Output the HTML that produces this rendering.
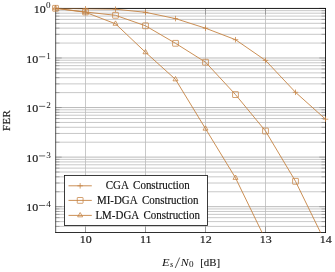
<!DOCTYPE html>
<html><head><meta charset="utf-8"><title>FER</title><style>html,body{margin:0;padding:0;background:#fff}body{width:335px;height:272px;overflow:hidden}</style></head><body>
<svg width="335" height="272" viewBox="0 0 335 272" style="display:block;will-change:transform;font-family:'Liberation Serif',serif">
<rect width="335" height="272" fill="#fff"/>
<path d="M55.5 10.67H325.5M55.5 13.20H325.5M55.5 16.08H325.5M55.5 19.40H325.5M55.5 23.32H325.5M55.5 28.13H325.5M55.5 34.32H325.5M55.5 43.05H325.5M55.5 60.24H325.5M55.5 62.77H325.5M55.5 65.65H325.5M55.5 68.97H325.5M55.5 72.89H325.5M55.5 77.70H325.5M55.5 83.89H325.5M55.5 92.62H325.5M55.5 109.81H325.5M55.5 112.34H325.5M55.5 115.22H325.5M55.5 118.54H325.5M55.5 122.46H325.5M55.5 127.27H325.5M55.5 133.46H325.5M55.5 142.19H325.5M55.5 159.38H325.5M55.5 161.91H325.5M55.5 164.79H325.5M55.5 168.11H325.5M55.5 172.03H325.5M55.5 176.84H325.5M55.5 183.03H325.5M55.5 191.76H325.5M55.5 208.95H325.5M55.5 211.48H325.5M55.5 214.36H325.5M55.5 217.68H325.5M55.5 221.60H325.5M55.5 226.41H325.5" stroke="#bababa" stroke-width="0.8" fill="none"/>
<path d="M55.5 57.97H325.5M55.5 107.54H325.5M55.5 157.11H325.5M55.5 206.68H325.5" stroke="#b2b2b2" stroke-width="0.9" fill="none"/>
<path d="M85.50 8.4V232.5M145.50 8.4V232.5M205.50 8.4V232.5M265.50 8.4V232.5" stroke="#bbbbbb" stroke-width="0.8" fill="none"/>
<path d="M55.5 10.67h4M325.5 10.67h-4M55.5 13.20h4M325.5 13.20h-4M55.5 16.08h4M325.5 16.08h-4M55.5 19.40h4M325.5 19.40h-4M55.5 23.32h4M325.5 23.32h-4M55.5 28.13h4M325.5 28.13h-4M55.5 34.32h4M325.5 34.32h-4M55.5 43.05h4M325.5 43.05h-4M55.5 60.24h4M325.5 60.24h-4M55.5 62.77h4M325.5 62.77h-4M55.5 65.65h4M325.5 65.65h-4M55.5 68.97h4M325.5 68.97h-4M55.5 72.89h4M325.5 72.89h-4M55.5 77.70h4M325.5 77.70h-4M55.5 83.89h4M325.5 83.89h-4M55.5 92.62h4M325.5 92.62h-4M55.5 109.81h4M325.5 109.81h-4M55.5 112.34h4M325.5 112.34h-4M55.5 115.22h4M325.5 115.22h-4M55.5 118.54h4M325.5 118.54h-4M55.5 122.46h4M325.5 122.46h-4M55.5 127.27h4M325.5 127.27h-4M55.5 133.46h4M325.5 133.46h-4M55.5 142.19h4M325.5 142.19h-4M55.5 159.38h4M325.5 159.38h-4M55.5 161.91h4M325.5 161.91h-4M55.5 164.79h4M325.5 164.79h-4M55.5 168.11h4M325.5 168.11h-4M55.5 172.03h4M325.5 172.03h-4M55.5 176.84h4M325.5 176.84h-4M55.5 183.03h4M325.5 183.03h-4M55.5 191.76h4M325.5 191.76h-4M55.5 208.95h4M325.5 208.95h-4M55.5 211.48h4M325.5 211.48h-4M55.5 214.36h4M325.5 214.36h-4M55.5 217.68h4M325.5 217.68h-4M55.5 221.60h4M325.5 221.60h-4M55.5 226.41h4M325.5 226.41h-4" stroke="#808080" stroke-width="0.6" fill="none"/>
<path d="M55.5 8.40h6.2M325.5 8.40h-6.2M55.5 57.97h6.2M325.5 57.97h-6.2M55.5 107.54h6.2M325.5 107.54h-6.2M55.5 157.11h6.2M325.5 157.11h-6.2M55.5 206.68h6.2M325.5 206.68h-6.2M85.50 8.4v6.2M85.50 232.5v-6.2M145.50 8.4v6.2M145.50 232.5v-6.2M205.50 8.4v6.2M205.50 232.5v-6.2M265.50 8.4v6.2M265.50 232.5v-6.2" stroke="#808080" stroke-width="0.6" fill="none"/>
<path d="M55.68 8V233" stroke="#2e2e2e" stroke-width="0.8" fill="none"/><path d="M325.5 8V233" stroke="#000" stroke-width="0.85" fill="none"/><path d="M55.3 8.45H325.9" stroke="#000" stroke-width="0.9" fill="none"/><path d="M55.3 232.5H325.9" stroke="#0a0a0a" stroke-width="0.85" fill="none"/>
<clipPath id="c"><rect x="55.5" y="8.4" width="270.0" height="224.1"/></clipPath>
<polyline points="55.50,8.30 85.50,8.80 115.50,9.20 145.50,12.30 175.50,18.60 205.50,28.20 235.50,39.70 265.50,60.40 295.50,92.30 325.50,119.20" fill="none" stroke="#c58343" stroke-width="0.9" clip-path="url(#c)" stroke-linejoin="round"/>
<polyline points="55.50,8.30 85.50,12.00 115.50,15.30 145.50,25.80 175.50,43.30 205.50,62.20 235.50,94.60 265.50,131.00 295.50,181.30 325.50,242.70" fill="none" stroke="#c58343" stroke-width="0.9" clip-path="url(#c)" stroke-linejoin="round"/>
<polyline points="55.50,8.30 85.50,12.30 115.50,23.80 145.50,52.30 175.50,79.40 205.50,128.70 235.50,177.90 265.50,239.60" fill="none" stroke="#c58343" stroke-width="0.9" clip-path="url(#c)" stroke-linejoin="round"/>
<path d="M52.75 8.30h5.5M55.50 5.55v5.5" stroke="#c58343" stroke-width="0.75" fill="none"/>
<path d="M82.75 8.80h5.5M85.50 6.05v5.5" stroke="#c58343" stroke-width="0.75" fill="none"/>
<path d="M112.75 9.20h5.5M115.50 6.45v5.5" stroke="#c58343" stroke-width="0.75" fill="none"/>
<path d="M142.75 12.30h5.5M145.50 9.55v5.5" stroke="#c58343" stroke-width="0.75" fill="none"/>
<path d="M172.75 18.60h5.5M175.50 15.85v5.5" stroke="#c58343" stroke-width="0.75" fill="none"/>
<path d="M202.75 28.20h5.5M205.50 25.45v5.5" stroke="#c58343" stroke-width="0.75" fill="none"/>
<path d="M232.75 39.70h5.5M235.50 36.95v5.5" stroke="#c58343" stroke-width="0.75" fill="none"/>
<path d="M262.75 60.40h5.5M265.50 57.65v5.5" stroke="#c58343" stroke-width="0.75" fill="none"/>
<path d="M292.75 92.30h5.5M295.50 89.55v5.5" stroke="#c58343" stroke-width="0.75" fill="none"/>
<path d="M322.75 119.20h5.5M325.50 116.45v5.5" stroke="#c58343" stroke-width="0.75" fill="none"/>
<rect x="52.60" y="5.40" width="5.8" height="5.8" rx="0.4" stroke="#c58343" stroke-width="0.75" fill="none"/>
<rect x="82.60" y="9.10" width="5.8" height="5.8" rx="0.4" stroke="#c58343" stroke-width="0.75" fill="none"/>
<rect x="112.60" y="12.40" width="5.8" height="5.8" rx="0.4" stroke="#c58343" stroke-width="0.75" fill="none"/>
<rect x="142.60" y="22.90" width="5.8" height="5.8" rx="0.4" stroke="#c58343" stroke-width="0.75" fill="none"/>
<rect x="172.60" y="40.40" width="5.8" height="5.8" rx="0.4" stroke="#c58343" stroke-width="0.75" fill="none"/>
<rect x="202.60" y="59.30" width="5.8" height="5.8" rx="0.4" stroke="#c58343" stroke-width="0.75" fill="none"/>
<rect x="232.60" y="91.70" width="5.8" height="5.8" rx="0.4" stroke="#c58343" stroke-width="0.75" fill="none"/>
<rect x="262.60" y="128.10" width="5.8" height="5.8" rx="0.4" stroke="#c58343" stroke-width="0.75" fill="none"/>
<rect x="292.60" y="178.40" width="5.8" height="5.8" rx="0.4" stroke="#c58343" stroke-width="0.75" fill="none"/>
<path d="M55.50 5.40L52.99 9.75L58.01 9.75Z" stroke="#c58343" stroke-width="0.78" fill="none" stroke-linejoin="miter"/>
<path d="M85.50 9.40L82.99 13.75L88.01 13.75Z" stroke="#c58343" stroke-width="0.78" fill="none" stroke-linejoin="miter"/>
<path d="M115.50 20.90L112.99 25.25L118.01 25.25Z" stroke="#c58343" stroke-width="0.78" fill="none" stroke-linejoin="miter"/>
<path d="M145.50 49.40L142.99 53.75L148.01 53.75Z" stroke="#c58343" stroke-width="0.78" fill="none" stroke-linejoin="miter"/>
<path d="M175.50 76.50L172.99 80.85L178.01 80.85Z" stroke="#c58343" stroke-width="0.78" fill="none" stroke-linejoin="miter"/>
<path d="M205.50 125.80L202.99 130.15L208.01 130.15Z" stroke="#c58343" stroke-width="0.78" fill="none" stroke-linejoin="miter"/>
<path d="M235.50 175.00L232.99 179.35L238.01 179.35Z" stroke="#c58343" stroke-width="0.78" fill="none" stroke-linejoin="miter"/>
<rect x="64.5" y="175.4" width="143.0" height="50.099999999999994" fill="#fff" stroke="#111" stroke-width="0.82"/>
<path d="M68.5 185.8H91.8" stroke="#c58343" stroke-width="0.9" fill="none"/>
<path d="M77.40 185.80h5.5M80.15 183.05v5.5" stroke="#c58343" stroke-width="0.75" fill="none"/>
<text transform="translate(147.7,189.35) scale(0.928,1)" font-size="11.8" word-spacing="2.3" text-anchor="middle" fill="#111" stroke="#111" stroke-width="0.15">CGA Construction</text>
<path d="M68.5 200.4H91.8" stroke="#c58343" stroke-width="0.9" fill="none"/>
<rect x="77.25" y="197.50" width="5.8" height="5.8" rx="0.4" stroke="#c58343" stroke-width="0.75" fill="none"/>
<text transform="translate(147.7,203.95) scale(0.928,1)" font-size="11.8" word-spacing="2.3" text-anchor="middle" fill="#111" stroke="#111" stroke-width="0.15">MI-DGA Construction</text>
<path d="M68.5 215.4H91.8" stroke="#c58343" stroke-width="0.9" fill="none"/>
<path d="M80.15 212.50L77.64 216.85L82.66 216.85Z" stroke="#c58343" stroke-width="0.78" fill="none" stroke-linejoin="miter"/>
<text transform="translate(147.7,218.55) scale(0.928,1)" font-size="11.8" word-spacing="2.3" text-anchor="middle" fill="#111" stroke="#111" stroke-width="0.15">LM-DGA Construction</text>
<text transform="translate(45.70,12.80) scale(1.1,1)" font-size="10.9" text-anchor="end" fill="#1a1a1a" stroke="#1a1a1a" stroke-width="0.18">10</text>
<text transform="translate(46.00,8.40) scale(1.15,1)" font-size="8" fill="#111">0</text>
<text transform="translate(38.20,62.67) scale(1.1,1)" font-size="10.9" text-anchor="end" fill="#1a1a1a" stroke="#1a1a1a" stroke-width="0.18">10</text>
<path d="M39.1 56.77h6.1" stroke="#111" stroke-width="0.65"/>
<text transform="translate(46.30,58.77) scale(1.15,1)" font-size="8" fill="#111">1</text>
<text transform="translate(38.20,112.24) scale(1.1,1)" font-size="10.9" text-anchor="end" fill="#1a1a1a" stroke="#1a1a1a" stroke-width="0.18">10</text>
<path d="M39.1 106.34h6.1" stroke="#111" stroke-width="0.65"/>
<text transform="translate(46.30,108.34) scale(1.15,1)" font-size="8" fill="#111">2</text>
<text transform="translate(38.20,161.81) scale(1.1,1)" font-size="10.9" text-anchor="end" fill="#1a1a1a" stroke="#1a1a1a" stroke-width="0.18">10</text>
<path d="M39.1 155.91h6.1" stroke="#111" stroke-width="0.65"/>
<text transform="translate(46.30,157.91) scale(1.15,1)" font-size="8" fill="#111">3</text>
<text transform="translate(38.20,211.38) scale(1.1,1)" font-size="10.9" text-anchor="end" fill="#1a1a1a" stroke="#1a1a1a" stroke-width="0.18">10</text>
<path d="M39.1 205.48h6.1" stroke="#111" stroke-width="0.65"/>
<text transform="translate(46.30,207.48) scale(1.15,1)" font-size="8" fill="#111">4</text>
<text transform="translate(85.80,243.4) scale(1.1,1)" font-size="10.9" text-anchor="middle" fill="#1a1a1a" stroke="#1a1a1a" stroke-width="0.18">10</text>
<text transform="translate(145.80,243.4) scale(1.1,1)" font-size="10.9" text-anchor="middle" fill="#1a1a1a" stroke="#1a1a1a" stroke-width="0.18">11</text>
<text transform="translate(205.80,243.4) scale(1.1,1)" font-size="10.9" text-anchor="middle" fill="#1a1a1a" stroke="#1a1a1a" stroke-width="0.18">12</text>
<text transform="translate(265.80,243.4) scale(1.1,1)" font-size="10.9" text-anchor="middle" fill="#1a1a1a" stroke="#1a1a1a" stroke-width="0.18">13</text>
<text transform="translate(325.80,243.4) scale(1.1,1)" font-size="10.9" text-anchor="middle" fill="#1a1a1a" stroke="#1a1a1a" stroke-width="0.18">14</text>
<text transform="translate(10.45,120.4) rotate(-90)" font-size="10.7" letter-spacing="0.55" text-anchor="middle" fill="#1a1a1a" stroke="#1a1a1a" stroke-width="0.2">FER</text>
<g fill="#111">
<text transform="translate(161.9,265.6) scale(1.13,1)" font-size="11" font-style="italic">E</text>
<text transform="translate(170.1,267.4) scale(1.05,1)" font-size="8" font-style="italic">s</text>
<path d="M175.2 268.0L179.7 257.5" stroke="#111" stroke-width="0.7" fill="none"/>
<text transform="translate(180.7,265.6) scale(1.08,1)" font-size="11" font-style="italic">N</text>
<text transform="translate(189.1,267.3) scale(1.15,1)" font-size="8">0</text>
<text x="200.2" y="265.7" font-size="10.8" stroke="#1a1a1a" stroke-width="0.12">[dB]</text>
</g>
</svg>
</body></html>
